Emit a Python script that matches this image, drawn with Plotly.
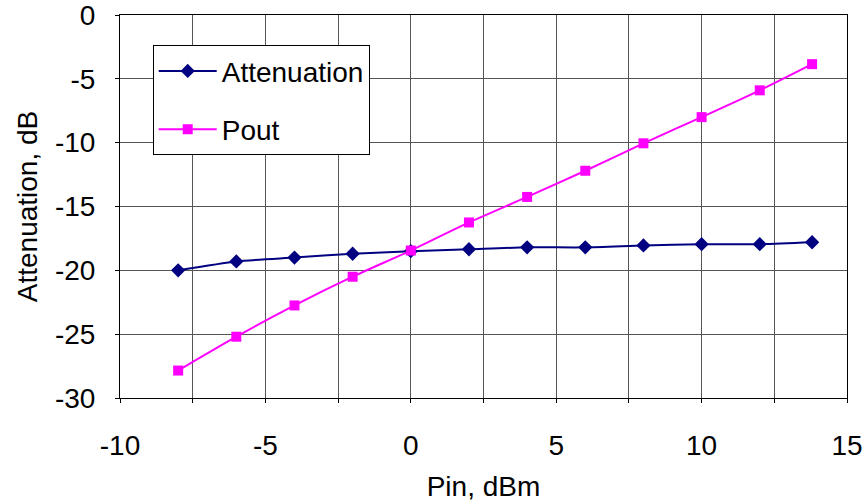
import plotly.graph_objects as go

pin = [-8, -6, -4, -2, 0, 2, 4, 6, 8, 10, 12, 13.8]
attenuation = [-20.0, -19.3, -19.0, -18.7, -18.5, -18.35, -18.2, -18.2, -18.05, -17.95, -17.95, -17.8]
pout = [-27.85, -25.2, -22.75, -20.5, -18.45, -16.25, -14.25, -12.2, -10.05, -8.0, -5.9, -3.85]

x_ticks = [-10, -5, 0, 5, 10, 15]
x_labels = ["-10", "-5", "0", "5", "10", "15"]
y_ticks = [0, -5, -10, -15, -20, -25, -30]
y_labels = ["0", "-5", "-10", "-15", "-20", "-25", "-30"]

FONT = "Liberation Sans, Arial, sans-serif"

fig = go.Figure()
fig.add_trace(go.Scatter(
    x=pin, y=attenuation, name="Attenuation", mode="lines+markers",
    line=dict(color="#000080", width=2, shape="spline", smoothing=0.6),
    marker=dict(symbol="diamond", size=11, color="#000080"),
    legendgroup="a",
))
fig.add_trace(go.Scatter(
    x=pin, y=pout, name="Pout", mode="lines+markers",
    line=dict(color="#FF00FF", width=2, shape="spline", smoothing=0.6),
    marker=dict(symbol="square", size=10, color="#FF00FF"),
    legendgroup="b",
))

axis_common = dict(
    showline=True, linecolor="black", linewidth=1, mirror=True,
    gridcolor="#555555", gridwidth=1, zeroline=False,
    ticks="outside", ticklen=4, tickcolor="black",
    tickfont=dict(family=FONT, size=28, color="black"),
    automargin=False, ticklabeloverflow="allow",
)

fig.update_xaxes(
    range=[-10, 15], tickvals=x_ticks, ticktext=x_labels,
    minor=dict(dtick=2.5, showgrid=True, gridcolor="#555555", ticks="outside", ticklen=4, tickcolor="black"),
    title=dict(text="Pin, dBm", font=dict(family=FONT, size=28, color="black"), standoff=16),
    ticklabelstandoff=18,
    **axis_common,
)
fig.update_yaxes(
    range=[-30, 0], tickvals=y_ticks, ticktext=y_labels,
    title=dict(text="Attenuation, dB", font=dict(family=FONT, size=28, color="black"), standoff=9),
    ticklabelstandoff=14,
    **axis_common,
)

fig.update_layout(
    width=867, height=504,
    margin=dict(l=120, r=20, t=15, b=106),
    plot_bgcolor="white", paper_bgcolor="white",
    font=dict(family=FONT, size=28, color="black"),
    legend=dict(
        x=0.045, y=0.921, xanchor="left", yanchor="top",
        bgcolor="white", bordercolor="black", borderwidth=1,
        font=dict(family=FONT, size=28, color="black"),
        traceorder="grouped", tracegroupgap=19,
        itemwidth=58,
    ),
    showlegend=True,
)

# remove the default page margin so the figure fills the 867x504 window exactly
fig.write_html(
    "out.html",
    config={"displayModeBar": False},
    post_script="document.body.style.margin='0';",
)
